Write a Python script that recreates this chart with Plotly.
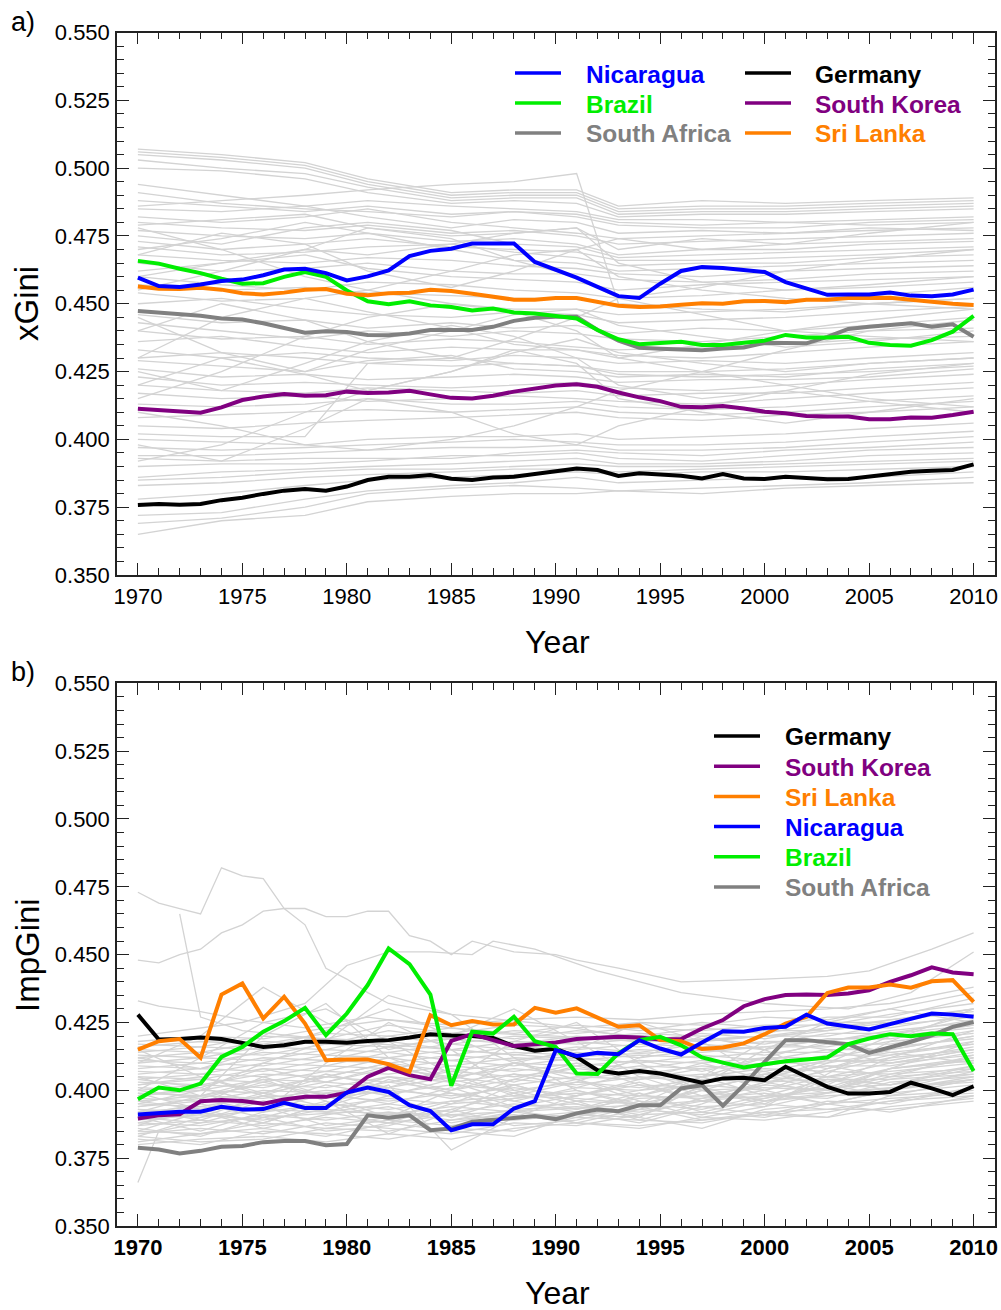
import plotly.graph_objects as go

W, H = 1001, 1310
years = list(range(1970, 2011))

# ---- panel a) xGini, highlighted countries (1970..2010)
xgini_nicaragua = [0.4596, 0.4565, 0.4562, 0.4571, 0.4584, 0.4589, 0.4605, 0.4626, 0.4629, 0.4613,
                   0.4586, 0.4601, 0.4623, 0.4676, 0.4695, 0.4703, 0.4722, 0.4723, 0.4722, 0.4654,
                   0.4626, 0.4596, 0.4562, 0.4528, 0.4521, 0.4574, 0.4621, 0.4635, 0.4632, 0.4626,
                   0.4617, 0.4580, 0.4555, 0.4533, 0.4534, 0.4534, 0.4541, 0.4530, 0.4528, 0.4534, 0.4552]
xgini_srilanka = [0.4564, 0.4555, 0.4554, 0.4559, 0.4552, 0.4539, 0.4534, 0.4541, 0.4552, 0.4554,
                  0.4537, 0.4531, 0.4539, 0.4541, 0.4552, 0.4547, 0.4537, 0.4525, 0.4515, 0.4515,
                  0.4521, 0.4521, 0.4506, 0.4493, 0.4488, 0.4490, 0.4496, 0.4502, 0.4500, 0.4509,
                  0.4510, 0.4506, 0.4515, 0.4515, 0.4521, 0.4521, 0.4522, 0.4515, 0.4506, 0.4500, 0.4495]
xgini_brazil = [0.4658, 0.4648, 0.4629, 0.4613, 0.4592, 0.4574, 0.4576, 0.4599, 0.4617, 0.4599,
                0.4549, 0.4509, 0.4498, 0.4509, 0.4494, 0.4488, 0.4475, 0.4482, 0.4468, 0.4464,
                0.4455, 0.4446, 0.4403, 0.4369, 0.4351, 0.4354, 0.4360, 0.4348, 0.4348, 0.4356,
                0.4364, 0.4385, 0.4376, 0.4376, 0.4378, 0.4356, 0.4348, 0.4345, 0.4366, 0.4397, 0.4455]
xgini_southafrica = [0.4473, 0.4467, 0.4461, 0.4456, 0.4446, 0.4442, 0.4428, 0.4409, 0.4393, 0.4399,
                     0.4396, 0.4385, 0.4384, 0.4390, 0.4403, 0.4403, 0.4403, 0.4415, 0.4437, 0.4448,
                     0.4452, 0.4452, 0.4403, 0.4364, 0.4338, 0.4334, 0.4333, 0.4329, 0.4335, 0.4339,
                     0.4356, 0.4354, 0.4354, 0.4378, 0.4407, 0.4415, 0.4423, 0.4428, 0.4415, 0.4424, 0.4378]
xgini_southkorea = [0.4113, 0.4107, 0.4101, 0.4098, 0.4118, 0.4145, 0.4158, 0.4167, 0.4161, 0.4163,
                    0.4176, 0.4171, 0.4173, 0.4179, 0.4166, 0.4153, 0.4151, 0.4161, 0.4176, 0.4188,
                    0.4199, 0.4203, 0.4194, 0.4173, 0.4155, 0.4141, 0.4120, 0.4118, 0.4123, 0.4114,
                    0.4102, 0.4096, 0.4086, 0.4084, 0.4084, 0.4074, 0.4074, 0.4081, 0.4080, 0.4090, 0.4102]
xgini_germany = [0.3758, 0.3762, 0.3759, 0.3762, 0.3776, 0.3785, 0.3799, 0.3811, 0.3817, 0.3811,
                 0.3826, 0.3850, 0.3862, 0.3862, 0.3869, 0.3855, 0.3850, 0.3859, 0.3862, 0.3872,
                 0.3881, 0.3893, 0.3887, 0.3865, 0.3875, 0.3872, 0.3866, 0.3856, 0.3872, 0.3856,
                 0.3854, 0.3862, 0.3859, 0.3853, 0.3854, 0.3862, 0.3872, 0.3881, 0.3884, 0.3887, 0.3908]

# other countries, panel a (values in thousandths, on a coarse year grid)
others_a_years = [1970, 1974, 1978, 1981, 1985, 1988, 1991, 1993, 1997, 2001, 2005, 2010]
others_a = [
    [507, 505, 502, 496, 491, 492, 492, 486, 488, 487, 488, 489],
    [506, 504, 501, 495, 490, 491, 491, 485, 486, 486, 487, 488],
    [505, 503, 500, 494, 489, 490, 490, 484, 485, 485, 486, 487],
    [503, 500, 498, 493, 488, 489, 489, 483, 484, 484, 485, 486],
    [500, 499, 496, 491, 487, 488, 487, 482, 483, 483, 484, 485],
    [494, 490, 486, 488, 486, 485, 484, 481, 481, 480, 481, 482],
    [491, 487, 485, 484, 482, 484, 482, 479, 478, 478, 480, 481],
    [488, 486, 484, 486, 483, 484, 483, 480, 479, 480, 479, 480],
    [485, 484, 486, 482, 478, 481, 480, 476, 477, 476, 477, 478],
    [482, 480, 482, 485, 480, 478, 476, 474, 475, 476, 478, 477],
    [480, 478, 477, 479, 476, 477, 475, 472, 473, 474, 475, 476],
    [479, 481, 483, 478, 475, 476, 478, 470, 474, 472, 473, 474],
    [477, 475, 474, 476, 473, 474, 472, 468, 470, 470, 472, 473],
    [475, 472, 478, 480, 477, 472, 471, 467, 468, 469, 470, 471],
    [473, 470, 472, 474, 471, 470, 469, 466, 466, 467, 468, 470],
    [471, 468, 469, 471, 472, 469, 467, 464, 465, 465, 467, 468],
    [470, 474, 480, 476, 470, 466, 465, 462, 463, 464, 465, 466],
    [468, 466, 465, 467, 466, 464, 463, 461, 460, 462, 463, 464],
    [465, 462, 463, 465, 462, 461, 461, 459, 458, 459, 461, 462],
    [462, 465, 468, 463, 460, 459, 458, 455, 457, 458, 459, 460],
    [460, 457, 455, 458, 457, 455, 454, 452, 453, 455, 456, 458],
    [457, 455, 456, 454, 453, 452, 452, 449, 450, 451, 453, 456],
    [454, 451, 452, 455, 450, 448, 448, 446, 447, 448, 450, 452],
    [450, 452, 448, 446, 445, 447, 446, 443, 444, 445, 447, 449],
    [446, 443, 444, 441, 443, 441, 442, 439, 441, 440, 442, 445],
    [443, 440, 437, 440, 438, 440, 439, 437, 436, 438, 440, 441],
    [440, 437, 438, 435, 437, 436, 434, 433, 434, 435, 437, 438],
    [436, 438, 434, 432, 434, 433, 433, 431, 430, 432, 434, 436],
    [433, 430, 432, 430, 429, 431, 430, 428, 429, 428, 430, 432],
    [430, 432, 430, 428, 427, 428, 427, 425, 425, 426, 428, 430],
    [429, 427, 425, 429, 431, 426, 425, 423, 424, 423, 426, 428],
    [426, 423, 424, 422, 423, 424, 423, 421, 422, 422, 423, 426],
    [423, 420, 421, 420, 419, 420, 421, 419, 418, 420, 422, 424],
    [420, 418, 417, 419, 418, 417, 418, 416, 417, 417, 419, 421],
    [417, 415, 416, 414, 415, 416, 415, 414, 413, 415, 417, 419],
    [413, 412, 413, 415, 413, 413, 414, 412, 411, 412, 414, 416],
    [408, 409, 410, 411, 410, 411, 412, 410, 409, 410, 412, 414],
    [405, 404, 406, 407, 408, 409, 410, 408, 407, 409, 410, 412],
    [402, 401, 401, 428, 430, 428, 427, 424, 423, 424, 425, 427],
    [400, 399, 398, 400, 401, 401, 402, 400, 401, 402, 404, 406],
    [397, 396, 397, 398, 399, 400, 399, 398, 398, 399, 401, 403],
    [394, 394, 395, 396, 397, 397, 398, 396, 396, 397, 399, 401],
    [393, 392, 393, 393, 393, 395, 396, 395, 394, 396, 397, 399],
    [390, 391, 391, 392, 394, 394, 395, 393, 392, 394, 396, 397],
    [386, 388, 389, 390, 391, 392, 393, 391, 391, 392, 394, 395],
    [385, 386, 388, 389, 389, 390, 391, 390, 390, 391, 392, 393],
    [383, 384, 386, 387, 388, 389, 389, 388, 389, 390, 391, 392],
    [378, 380, 383, 385, 386, 387, 388, 387, 388, 388, 389, 390],
    [372, 373, 378, 381, 383, 384, 386, 384, 385, 386, 386, 388],
    [369, 371, 375, 380, 382, 383, 382, 381, 382, 383, 384, 386],
    [365, 370, 372, 377, 379, 380, 380, 381, 380, 382, 383, 384],
    [430, 445, 452, 447, 441, 435, 433, 430, 435, 440, 438, 436],
    [445, 432, 425, 433, 440, 446, 448, 442, 438, 434, 436, 440],
    [392, 398, 410, 418, 425, 432, 437, 432, 428, 425, 428, 430],
    [478, 470, 460, 455, 462, 468, 470, 460, 455, 452, 450, 448],
    [415, 425, 438, 445, 450, 447, 440, 430, 425, 433, 440, 444],
    [460, 465, 470, 468, 472, 476, 478, 465, 458, 455, 457, 460],
    [410, 405, 398, 396, 400, 405, 412, 418, 425, 420, 415, 412],
    [486, 488, 490, 492, 494, 495, 498, 450, 448, 447, 450, 452],
    [455, 462, 470, 478, 474, 466, 460, 452, 456, 462, 466, 470],
    [425, 418, 428, 436, 442, 438, 430, 420, 415, 418, 424, 428],
    [440, 450, 444, 436, 430, 437, 445, 452, 446, 440, 444, 448],
    [398, 392, 404, 415, 410, 402, 398, 405, 412, 418, 414, 410],
    [468, 476, 472, 462, 456, 462, 470, 474, 470, 472, 476, 480],
    [420, 430, 424, 418, 425, 433, 428, 415, 410, 406, 410, 415],
]

# ---- panel b) ImpGini, highlighted countries (1970..2010)
impgini_germany = [0.4279, 0.4187, 0.4189, 0.4195, 0.4189, 0.4173, 0.4160, 0.4166, 0.4179, 0.4179,
                   0.4175, 0.4182, 0.4185, 0.4195, 0.4207, 0.4202, 0.4200, 0.4193, 0.4163, 0.4146,
                   0.4153, 0.4123, 0.4074, 0.4062, 0.4071, 0.4062, 0.4044, 0.4028, 0.4044, 0.4046,
                   0.4037, 0.4087, 0.4050, 0.4013, 0.3988, 0.3988, 0.3994, 0.4028, 0.4007, 0.3982, 0.4015]
impgini_srilanka = [0.4150, 0.4181, 0.4189, 0.4120, 0.4353, 0.4394, 0.4265, 0.4345, 0.4246, 0.4111,
                    0.4114, 0.4114, 0.4096, 0.4068, 0.4277, 0.4240, 0.4255, 0.4243, 0.4243, 0.4304,
                    0.4286, 0.4302, 0.4268, 0.4234, 0.4240, 0.4185, 0.4181, 0.4152, 0.4158, 0.4173,
                    0.4207, 0.4246, 0.4271, 0.4359, 0.4379, 0.4379, 0.4390, 0.4378, 0.4402, 0.4406, 0.4326]
impgini_brazil = [0.3967, 0.4010, 0.4000, 0.4025, 0.4123, 0.4160, 0.4216, 0.4255, 0.4304, 0.4203,
                  0.4283, 0.4388, 0.4523, 0.4465, 0.4353, 0.4017, 0.4216, 0.4209, 0.4271, 0.4181,
                  0.4160, 0.4062, 0.4060, 0.4136, 0.4185, 0.4197, 0.4166, 0.4121, 0.4102, 0.4084,
                  0.4096, 0.4107, 0.4114, 0.4121, 0.4170, 0.4191, 0.4207, 0.4199, 0.4209, 0.4207, 0.4071]
impgini_nicaragua = [0.3911, 0.3917, 0.3921, 0.3921, 0.3939, 0.3929, 0.3931, 0.3954, 0.3935, 0.3935,
                     0.3992, 0.4010, 0.3994, 0.3945, 0.3924, 0.3853, 0.3875, 0.3875, 0.3933, 0.3960,
                     0.4148, 0.4127, 0.4138, 0.4133, 0.4185, 0.4154, 0.4132, 0.4176, 0.4218, 0.4216,
                     0.4230, 0.4234, 0.4279, 0.4246, 0.4234, 0.4224, 0.4244, 0.4265, 0.4283, 0.4279, 0.4271]
impgini_southkorea = [0.3896, 0.3908, 0.3912, 0.3960, 0.3964, 0.3961, 0.3951, 0.3966, 0.3976, 0.3976,
                      0.3991, 0.4050, 0.4083, 0.4056, 0.4041, 0.4182, 0.4207, 0.4185, 0.4163, 0.4170,
                      0.4176, 0.4189, 0.4193, 0.4197, 0.4195, 0.4187, 0.4189, 0.4228, 0.4259, 0.4310,
                      0.4336, 0.4351, 0.4353, 0.4351, 0.4357, 0.4369, 0.4400, 0.4424, 0.4453, 0.4434, 0.4428]
impgini_southafrica = [0.3788, 0.3782, 0.3767, 0.3777, 0.3792, 0.3795, 0.3809, 0.3813, 0.3813, 0.3798,
                       0.3802, 0.3908, 0.3899, 0.3908, 0.3853, 0.3859, 0.3884, 0.3890, 0.3899, 0.3905,
                       0.3894, 0.3915, 0.3929, 0.3923, 0.3945, 0.3945, 0.4007, 0.4019, 0.3943, 0.4019,
                       0.4105, 0.4185, 0.4185, 0.4176, 0.4170, 0.4138, 0.4158, 0.4179, 0.4203, 0.4234, 0.4252]

# other countries, panel b (thousandths)
others_b_years = [1970, 1973, 1976, 1979, 1982, 1985, 1988, 1991, 1994, 1997, 2000, 2003, 2006, 2010]
others_b = [
    [380, 382, 383, 381, 384, 382, 386, 388, 387, 389, 391, 390, 394, 397],
    [382, 380, 385, 384, 382, 386, 385, 390, 389, 388, 392, 393, 393, 396],
    [384, 386, 384, 388, 386, 384, 388, 387, 391, 392, 390, 395, 397, 399],
    [385, 384, 388, 386, 389, 387, 390, 392, 388, 394, 395, 393, 396, 401],
    [387, 389, 387, 390, 388, 391, 389, 391, 393, 391, 396, 398, 399, 402],
    [388, 387, 391, 389, 392, 389, 393, 394, 392, 396, 394, 399, 401, 403],
    [389, 391, 389, 393, 391, 394, 392, 396, 395, 393, 398, 397, 403, 405],
    [391, 390, 393, 392, 395, 392, 395, 393, 397, 398, 397, 401, 402, 406],
    [392, 394, 392, 395, 393, 396, 398, 397, 395, 400, 401, 400, 405, 407],
    [393, 392, 396, 394, 397, 395, 397, 399, 398, 397, 403, 404, 404, 409],
    [394, 396, 395, 398, 396, 399, 396, 401, 400, 402, 400, 405, 407, 410],
    [395, 394, 398, 397, 400, 398, 401, 398, 402, 401, 405, 403, 408, 411],
    [396, 398, 397, 400, 399, 402, 400, 403, 401, 404, 403, 407, 406, 412],
    [397, 396, 400, 399, 403, 400, 404, 402, 405, 403, 406, 405, 410, 413],
    [398, 400, 399, 403, 401, 405, 402, 405, 404, 406, 405, 409, 409, 414],
    [399, 398, 402, 401, 405, 403, 406, 404, 407, 405, 408, 407, 412, 415],
    [400, 402, 401, 405, 403, 407, 405, 408, 406, 409, 407, 411, 411, 416],
    [401, 400, 404, 403, 408, 405, 408, 406, 409, 408, 410, 410, 414, 417],
    [402, 404, 403, 407, 406, 409, 407, 410, 408, 411, 409, 413, 413, 418],
    [403, 402, 406, 405, 410, 407, 410, 409, 411, 410, 412, 412, 416, 419],
    [404, 406, 405, 409, 408, 411, 409, 412, 410, 413, 411, 415, 415, 420],
    [405, 404, 408, 407, 412, 409, 412, 411, 413, 412, 414, 414, 418, 421],
    [406, 408, 407, 411, 410, 413, 411, 414, 412, 415, 413, 417, 417, 422],
    [407, 406, 410, 409, 414, 411, 414, 413, 415, 414, 416, 416, 420, 423],
    [408, 410, 409, 413, 412, 415, 413, 416, 414, 417, 415, 419, 419, 424],
    [409, 408, 412, 411, 416, 413, 416, 415, 417, 416, 418, 418, 422, 425],
    [410, 412, 411, 415, 414, 417, 415, 418, 416, 419, 417, 421, 421, 426],
    [411, 410, 414, 413, 418, 415, 418, 417, 419, 418, 420, 420, 424, 427],
    [412, 414, 413, 417, 416, 419, 417, 420, 418, 421, 419, 423, 423, 428],
    [413, 412, 416, 415, 420, 417, 420, 419, 421, 420, 422, 422, 426, 429],
    [414, 416, 415, 419, 418, 421, 419, 422, 420, 423, 421, 425, 425, 430],
    [415, 414, 418, 417, 422, 419, 422, 421, 423, 422, 424, 424, 428, 432],
    [416, 418, 417, 421, 420, 423, 421, 424, 422, 425, 423, 427, 427, 434],
    [417, 416, 420, 419, 424, 421, 424, 423, 425, 424, 427, 426, 430, 436],
    [418, 420, 419, 423, 426, 424, 426, 427, 426, 428, 429, 430, 432, 438],
    [383, 390, 398, 405, 410, 403, 396, 392, 398, 405, 412, 418, 414, 410],
    [415, 405, 398, 392, 388, 395, 404, 410, 402, 396, 400, 408, 415, 420],
    [400, 412, 425, 430, 418, 406, 398, 403, 412, 420, 415, 405, 402, 408],
    [390, 385, 392, 410, 425, 415, 400, 395, 390, 402, 415, 425, 430, 425],
    [410, 420, 438, 425, 415, 420, 430, 418, 405, 398, 402, 410, 420, 428],
    [395, 400, 410, 418, 435, 428, 412, 400, 395, 405, 418, 415, 410, 415],
    [385, 392, 388, 395, 402, 378, 390, 398, 404, 408, 400, 395, 400, 405],
    [405, 398, 420, 432, 412, 404, 418, 425, 410, 400, 396, 402, 412, 422],
    [387, 395, 405, 398, 390, 400, 410, 404, 396, 390, 394, 406, 418, 430],
    [412, 408, 415, 422, 430, 420, 410, 415, 425, 418, 405, 400, 408, 418],
    [381, 384, 386, 383, 388, 385, 383, 391, 390, 386, 393, 395, 392, 398],
    [383, 381, 382, 386, 385, 389, 391, 388, 386, 390, 389, 392, 396, 398],
    [386, 383, 390, 385, 387, 393, 387, 389, 394, 389, 392, 390, 398, 400],
    [388, 392, 386, 391, 394, 388, 392, 390, 396, 394, 391, 396, 395, 401],
    [390, 388, 394, 387, 390, 396, 394, 395, 391, 397, 399, 395, 400, 404],
    [391, 395, 390, 396, 389, 393, 399, 393, 399, 392, 397, 402, 398, 404],
    [393, 389, 396, 392, 398, 390, 397, 400, 394, 401, 396, 399, 404, 406],
    [394, 397, 392, 399, 395, 401, 394, 398, 403, 396, 402, 400, 406, 408],
    [396, 393, 399, 394, 401, 397, 402, 396, 400, 405, 398, 404, 402, 409],
    [398, 401, 395, 402, 398, 404, 399, 404, 398, 403, 407, 401, 408, 411],
    [400, 397, 403, 398, 405, 400, 406, 401, 407, 400, 406, 409, 405, 413],
    [402, 405, 399, 406, 401, 408, 403, 409, 404, 410, 404, 411, 410, 415],
    [404, 401, 408, 403, 409, 404, 410, 406, 411, 407, 412, 408, 413, 417],
    [392, 398, 404, 396, 384, 392, 402, 396, 389, 395, 403, 399, 408, 412],
    [399, 393, 388, 395, 404, 399, 393, 388, 393, 400, 395, 404, 400, 407],
]

# a few outlying countries in panel b with their own year points
outlier_b1_years = list(range(1970, 1983)) + [1985, 1990, 1995, 2000, 2005, 2010]
outlier_b1 = [473, 469, 467, 465, 482, 479, 478, 467, 461, 445, 441, 436, 432, 428, 424, 418, 420, 425, 430]
outlier_b2_years = list(range(1970, 1989)) + [1990, 1991, 1993, 1996, 2000, 2003, 2005, 2008, 2010]
outlier_b2 = [448, 447, 450, 452, 458, 461, 466, 467, 467, 464, 464, 466, 466, 457, 455, 450, 455, 453, 451,
              450, 448, 445, 440, 441, 442, 444, 452, 458]
outlier_b3_years = [1972, 1973, 1975, 1980, 1985, 1990, 1995, 2000, 2005, 2010]
outlier_b3 = [465, 427, 422, 418, 415, 412, 414, 416, 420, 424]
outlier_b4_years = [1970, 1971, 1973, 1976, 1980, 1985, 1990, 1995, 2000, 2005, 2010]
outlier_b4 = [366, 385, 388, 390, 392, 391, 393, 395, 398, 400, 404]
outlier_b5_years = [1970, 1971, 1972, 1973, 1975, 1978, 1981, 1984, 1987, 1990, 1994, 1998, 2002, 2006, 2010]
outlier_b5 = [433, 431, 430, 429, 426, 423, 427, 424, 421, 420, 418, 419, 421, 425, 430]
outlier_b6_years = [1970, 1975, 1978, 1980, 1982, 1984, 1986, 1987, 1989, 1992, 1996, 2000, 2004, 2007, 2010]
outlier_b6 = [420, 425, 432, 446, 451, 451, 450, 455, 452, 444, 436, 432, 430, 436, 451]

countries_a = ["Nicaragua", "Brazil", "South Africa", "Germany", "South Korea", "Sri Lanka"]
countries_b = ["Germany", "South Korea", "Sri Lanka", "Nicaragua", "Brazil", "South Africa"]
colors = {"Nicaragua": "#0000ff", "Brazil": "#00ee00", "South Africa": "#808080",
          "Germany": "#000000", "South Korea": "#800080", "Sri Lanka": "#ff7f00"}

FONT = "Liberation Sans, Arial, Helvetica, sans-serif"
GREY = "#d3d3d3"


def px(x):
    return x / W


def py(y):
    return 1 - y / H


fig = go.Figure()

# panel a
for row in others_a:
    fig.add_trace(go.Scatter(x=others_a_years, y=[v / 1000 for v in row], mode="lines",
                             line=dict(color=GREY, width=1.3), xaxis="x", yaxis="y",
                             showlegend=False, hoverinfo="skip"))
series_a = [("South Africa", xgini_southafrica), ("Germany", xgini_germany),
            ("South Korea", xgini_southkorea), ("Brazil", xgini_brazil),
            ("Sri Lanka", xgini_srilanka), ("Nicaragua", xgini_nicaragua)]
for name, vals in series_a:
    fig.add_trace(go.Scatter(x=years, y=vals, mode="lines", name=name,
                             line=dict(color=colors[name], width=4), xaxis="x", yaxis="y",
                             showlegend=False))

# panel b
for row in others_b:
    fig.add_trace(go.Scatter(x=others_b_years, y=[v / 1000 for v in row], mode="lines",
                             line=dict(color=GREY, width=1.3), xaxis="x2", yaxis="y2",
                             showlegend=False, hoverinfo="skip"))
for yrs, row in [(outlier_b1_years, outlier_b1), (outlier_b2_years, outlier_b2),
                 (outlier_b3_years, outlier_b3), (outlier_b4_years, outlier_b4),
                 (outlier_b5_years, outlier_b5), (outlier_b6_years, outlier_b6)]:
    fig.add_trace(go.Scatter(x=yrs, y=[v / 1000 for v in row], mode="lines",
                             line=dict(color=GREY, width=1.3), xaxis="x2", yaxis="y2",
                             showlegend=False, hoverinfo="skip"))
series_b = [("South Africa", impgini_southafrica), ("Germany", impgini_germany),
            ("South Korea", impgini_southkorea), ("Sri Lanka", impgini_srilanka),
            ("Brazil", impgini_brazil), ("Nicaragua", impgini_nicaragua)]
for name, vals in series_b:
    fig.add_trace(go.Scatter(x=years, y=vals, mode="lines", name=name,
                             line=dict(color=colors[name], width=4), xaxis="x2", yaxis="y2",
                             showlegend=False))

# axes
xcommon = dict(range=[1969, 2011], tick0=1970, dtick=5, ticks="inside", ticklen=12, tickwidth=1.3,
               tickcolor="#222", showline=True, linecolor="#222", linewidth=1.5, mirror="ticks",
               showgrid=False, zeroline=False, automargin=False, ticklabelstandoff=1,
               minor=dict(dtick=1, ticks="inside", ticklen=7, tickwidth=1.3, tickcolor="#222",
                          showgrid=False))
ycommon = dict(range=[0.35, 0.55], tick0=0.35, dtick=0.025, tickformat=".3f", ticks="inside",
               ticklen=12, tickwidth=1.3, tickcolor="#222", showline=True, linecolor="#222",
               linewidth=1.5, mirror="ticks", showgrid=False, zeroline=False, automargin=False,
               tickfont=dict(family=FONT, size=22, color="black"), ticklabelstandoff=1,
               minor=dict(dtick=0.005, ticks="inside", ticklen=7, tickwidth=1.3, tickcolor="#222",
                          showgrid=False))

xdom = [px(117), px(994.5)]
fig.update_layout(
    width=W, height=H, margin=dict(l=0, r=0, t=0, b=0),
    paper_bgcolor="white", plot_bgcolor="white", showlegend=False,
    xaxis=dict(xcommon, domain=xdom, anchor="y",
               tickfont=dict(family=FONT, size=22, color="black")),
    yaxis=dict(ycommon, domain=[py(575), py(32.5)], anchor="x"),
    xaxis2=dict(xcommon, domain=xdom, anchor="y2",
                tickfont=dict(family=FONT, size=22, color="black", weight="bold")),
    yaxis2=dict(ycommon, domain=[py(1226), py(683.3)], anchor="x2"),
)

annotations = []
shapes = []


def text(x, y, s, size, color="black", bold=False, xanchor="center", angle=0):
    annotations.append(dict(x=px(x), y=py(y), xref="paper", yref="paper", text=s, showarrow=False,
                            xanchor=xanchor, yanchor="middle", textangle=angle,
                            font=dict(family=FONT, size=size, color=color,
                                      weight="bold" if bold else "normal")))


text(23, 22, "a)", 27, xanchor="center")
text(23, 672, "b)", 27, xanchor="center")
text(27, 304, "xGini", 33, angle=-90)
text(27, 955, "ImpGini", 33, angle=-90)
text(557, 642, "Year", 32)
text(557, 1293, "Year", 32)

# legend, panel a (two columns)
leg_a = [(515, 584, 73), (515, 584, 103), (515, 584, 133),
         (745, 813, 73), (745, 813, 103), (745, 813, 133)]
for name, (lx, tx, ly) in zip(countries_a, leg_a):
    shapes.append(dict(type="line", xref="paper", yref="paper", x0=px(lx), x1=px(lx + 46),
                       y0=py(ly), y1=py(ly), line=dict(color=colors[name], width=3.5)))
    text(tx, ly + 1, name, 24.5, color=colors[name], bold=True, xanchor="left")

# legend, panel b (one column)
for i, name in enumerate(countries_b):
    ly = 736 + i * 30.2
    shapes.append(dict(type="line", xref="paper", yref="paper", x0=px(714), x1=px(760),
                       y0=py(ly), y1=py(ly), line=dict(color=colors[name], width=3.5)))
    text(783, ly + 1, name, 24.5, color=colors[name], bold=True, xanchor="left")

fig.update_layout(annotations=annotations, shapes=shapes)

# drop the page's default body margin so the figure fills the window exactly
fig.write_html("out.html", config={"displayModeBar": False},
               post_script="document.body.style.margin='0';document.body.style.overflow='hidden';")
